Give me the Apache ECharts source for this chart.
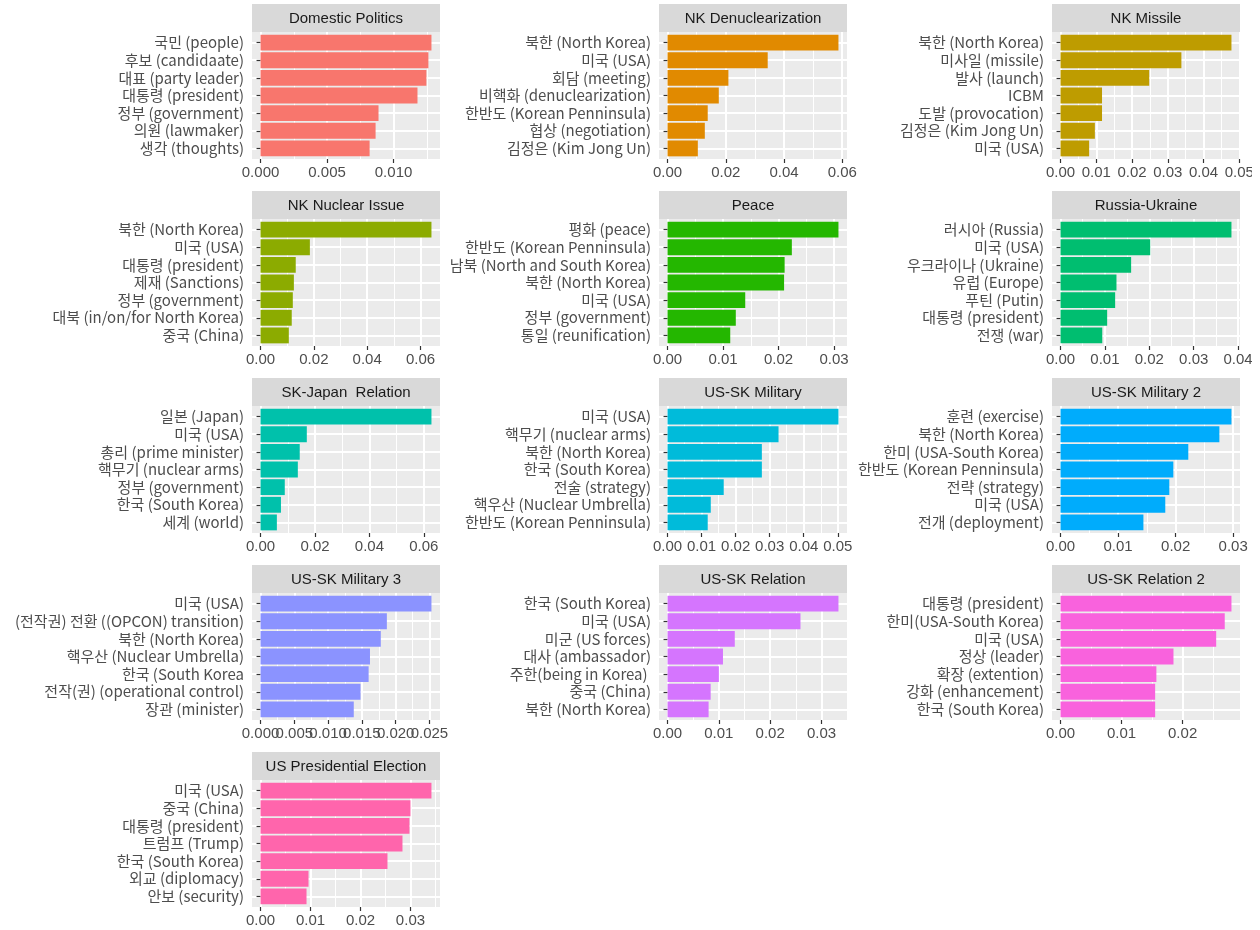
<!DOCTYPE html>
<html>
<head>
<meta charset="utf-8">
<script src="https://cdn.jsdelivr.net/npm/echarts@6/dist/echarts.min.js"></script>
<style>
  html, body { margin: 0; padding: 0; background: #fff; }
  #chart { width: 1252px; height: 930px; }
</style>
</head>
<body>
<div id="chart"></div>
<script>
var titles = ['Domestic Politics', 'NK Denuclearization', 'NK Missile', 'NK Nuclear Issue', 'Peace',
  'Russia-Ukraine', 'SK-Japan  Relation', 'US-SK Military', 'US-SK Military 2', 'US-SK Military 3',
  'US-SK Relation', 'US-SK Relation 2', 'US Presidential Election'];

var terms = [
  ['국민 (people)', '후보 (candidaate)', '대표 (party leader)', '대통령 (president)', '정부 (government)', '의원 (lawmaker)', '생각 (thoughts)'],
  ['북한 (North Korea)', '미국 (USA)', '회담 (meeting)', '비핵화 (denuclearization)', '한반도 (Korean Penninsula)', '협상 (negotiation)', '김정은 (Kim Jong Un)'],
  ['북한 (North Korea)', '미사일 (missile)', '발사 (launch)', 'ICBM', '도발 (provocation)', '김정은 (Kim Jong Un)', '미국 (USA)'],
  ['북한 (North Korea)', '미국 (USA)', '대통령 (president)', '제재 (Sanctions)', '정부 (government)', '대북 (in/on/for North Korea)', '중국 (China)'],
  ['평화 (peace)', '한반도 (Korean Penninsula)', '남북 (North and South Korea)', '북한 (North Korea)', '미국 (USA)', '정부 (government)', '통일 (reunification)'],
  ['러시아 (Russia)', '미국 (USA)', '우크라이나 (Ukraine)', '유럽 (Europe)', '푸틴 (Putin)', '대통령 (president)', '전쟁 (war)'],
  ['일본 (Japan)', '미국 (USA)', '총리 (prime minister)', '핵무기 (nuclear arms)', '정부 (government)', '한국 (South Korea)', '세계 (world)'],
  ['미국 (USA)', '핵무기 (nuclear arms)', '북한 (North Korea)', '한국 (South Korea)', '전술 (strategy)', '핵우산 (Nuclear Umbrella)', '한반도 (Korean Penninsula)'],
  ['훈련 (exercise)', '북한 (North Korea)', '한미 (USA-South Korea)', '한반도 (Korean Penninsula)', '전략 (strategy)', '미국 (USA)', '전개 (deployment)'],
  ['미국 (USA)', '(전작권) 전환 ((OPCON) transition)', '북한 (North Korea)', '핵우산 (Nuclear Umbrella)', '한국 (South Korea', '전작(권) (operational control)', '장관 (minister)'],
  ['한국 (South Korea)', '미국 (USA)', '미군 (US forces)', '대사 (ambassador)', '주한(being in Korea) ', '중국 (China)', '북한 (North Korea)'],
  ['대통령 (president)', '한미(USA-South Korea)', '미국 (USA)', '정상 (leader)', '확장 (extention)', '강화 (enhancement)', '한국 (South Korea)'],
  ['미국 (USA)', '중국 (China)', '대통령 (president)', '트럼프 (Trump)', '한국 (South Korea)', '외교 (diplomacy)', '안보 (security)']
];

var values = [
  [0.01285, 0.01262, 0.01247, 0.0118, 0.00887, 0.00865, 0.0082],
  [0.0587, 0.0344, 0.0209, 0.0176, 0.0138, 0.0128, 0.0104],
  [0.0478, 0.0338, 0.0248, 0.0116, 0.0116, 0.0096, 0.0080],
  [0.0641, 0.0185, 0.0132, 0.0125, 0.0121, 0.0117, 0.0106],
  [0.0308, 0.0224, 0.0211, 0.0210, 0.0140, 0.0123, 0.0113],
  [0.0385, 0.0202, 0.0159, 0.0126, 0.0123, 0.0105, 0.0094],
  [0.0628, 0.0170, 0.0144, 0.0137, 0.0089, 0.0075, 0.0060],
  [0.0502, 0.0326, 0.0277, 0.0277, 0.0165, 0.0127, 0.0118],
  [0.0297, 0.0276, 0.0222, 0.0196, 0.0189, 0.0182, 0.0144],
  [0.0253, 0.0187, 0.0178, 0.0162, 0.0160, 0.0148, 0.0138],
  [0.0333, 0.0259, 0.0131, 0.0108, 0.0100, 0.0084, 0.0080],
  [0.0280, 0.0269, 0.0255, 0.0185, 0.0157, 0.0155, 0.0155],
  [0.0342, 0.0300, 0.0298, 0.0284, 0.0254, 0.0096, 0.0092]
];

// x tick step of each panel
var steps = [0.005, 0.02, 0.01, 0.02, 0.01, 0.01, 0.02, 0.01, 0.01, 0.005, 0.01, 0.01, 0.01];

var colors = ['#F8766D', '#E18A00', '#BE9C00', '#8CAB00', '#24B700', '#00BE70', '#00C1AB',
  '#00BBDA', '#00ACFC', '#8B93FF', '#D575FE', '#F962DD', '#FF65AC'];

var chart = echarts.init(document.getElementById('chart'));

var colLeft = [252, 659, 1052];
var W = 188, H = 127, stripH = 28, rowTop = 4, rowPitch = 187;
var grids = [], xAxes = [], yAxes = [], series = [], graphics = [];

function fix(v) { return Number(v.toFixed(10)); }

var xLabelStyle = {
  margin: 6, color: '#4D4D4D', fontSize: 15, fontFamily: '"Liberation Sans", Arial, sans-serif',
  showMinLabel: true, showMaxLabel: true, hideOverlap: false
};

function labelAxis(g, min, max, interval, dec) {
  return {
    type: 'value', gridIndex: g, min: min, max: max, interval: interval,
    axisLine: { show: false }, axisTick: { show: false }, splitLine: { show: false },
    axisLabel: Object.assign({}, xLabelStyle, { formatter: function (v) { return v.toFixed(dec); } })
  };
}

titles.forEach(function (title, i) {
  var left = colLeft[i % 3];
  var stripTop = rowTop + rowPitch * Math.floor(i / 3);
  var top = stripTop + stripH;
  var vals = values[i], step = steps[i];
  var max = Math.max.apply(null, vals);
  var lo = -0.05 * max, hi = 1.05 * max;
  var px = function (v) { return left + (v - lo) / (hi - lo) * W; };
  var dec = String(step).split('.')[1].length;
  var lastMajor = fix(Math.floor(hi / step + 1e-9) * step);
  var firstMinor = fix(step / 2);
  var lastMinor = fix(firstMinor + Math.floor((hi - firstMinor) / step + 1e-9) * step);
  var gap = H / 7.2;
  // labels wider than the tick spacing are drawn on two axes (even / odd ticks)
  var crowded = (px(step) - px(0)) < (dec + 2) * 7.8;

  // strip + panel background
  graphics.push({
    type: 'rect', z: -1, silent: true,
    shape: { x: left, y: stripTop, width: W, height: stripH },
    style: { fill: '#D9D9D9' }
  });
  graphics.push({
    type: 'text', z: 5, silent: true,
    style: {
      text: title, x: left + W / 2, y: stripTop + stripH / 2 + 1,
      textAlign: 'center', textVerticalAlign: 'middle', verticalAlign: 'middle',
      fill: '#1A1A1A', font: '15px "Liberation Sans", Arial, sans-serif'
    }
  });
  graphics.push({
    type: 'rect', z: -1, silent: true,
    shape: { x: left, y: top, width: W, height: H },
    style: { fill: '#EBEBEB' }
  });

  // minor vertical lines
  var g = grids.length;
  grids.push({ left: px(firstMinor), width: px(lastMinor) - px(firstMinor), top: top, height: H, outerBoundsMode: 'none' });
  xAxes.push({
    type: 'value', gridIndex: g, min: firstMinor, max: lastMinor, interval: step,
    axisLine: { show: false }, axisTick: { show: false }, axisLabel: { show: false },
    splitLine: { show: true, lineStyle: { color: '#FFFFFF', width: 1 } }
  });
  yAxes.push({ type: 'value', gridIndex: g, show: false });

  // major vertical lines, x ticks and labels
  g = grids.length;
  grids.push({ left: px(0), width: px(lastMajor) - px(0), top: top, height: H, outerBoundsMode: 'none' });
  xAxes.push({
    type: 'value', gridIndex: g, min: 0, max: lastMajor, interval: step,
    axisLine: { show: false },
    axisTick: { show: true, length: 4, lineStyle: { color: '#333333', width: 1.2 } },
    axisLabel: Object.assign({}, xLabelStyle, {
      show: !crowded,
      formatter: function (v) { return v.toFixed(dec); }
    }),
    splitLine: { show: true, lineStyle: { color: '#FFFFFF', width: 2 } }
  });
  yAxes.push({ type: 'value', gridIndex: g, show: false });

  if (crowded) {
    var lastEven = fix(Math.floor(lastMajor / (2 * step) + 1e-9) * 2 * step);
    var lastOdd = fix(step + Math.floor((lastMajor - step) / (2 * step) + 1e-9) * 2 * step);
    g = grids.length;
    grids.push({ left: px(0), width: px(lastEven) - px(0), top: top, height: H, outerBoundsMode: 'none' });
    xAxes.push(labelAxis(g, 0, lastEven, 2 * step, dec));
    yAxes.push({ type: 'value', gridIndex: g, show: false });
    g = grids.length;
    grids.push({ left: px(step), width: px(lastOdd) - px(step), top: top, height: H, outerBoundsMode: 'none' });
    xAxes.push(labelAxis(g, step, lastOdd, 2 * step, dec));
    yAxes.push({ type: 'value', gridIndex: g, show: false });
  }

  // bars, category ticks/labels and horizontal lines
  g = grids.length;
  grids.push({ left: left, width: W, top: top + 0.6 * gap, height: 6 * gap, outerBoundsMode: 'none' });
  xAxes.push({ type: 'value', gridIndex: g, min: lo, max: hi, show: false });
  yAxes.push({
    type: 'category', gridIndex: g, data: terms[i], inverse: true, boundaryGap: false,
    axisLine: { show: false },
    axisTick: { show: true, interval: 0, length: 4, lineStyle: { color: '#333333', width: 1.2 } },
    axisLabel: {
      interval: 0, margin: 8, color: '#4D4D4D', fontSize: 15,
      fontFamily: '"Noto Sans CJK KR", "Noto Sans", sans-serif'
    },
    splitLine: { show: true, interval: 0, lineStyle: { color: '#FFFFFF', width: 2 } }
  });
  series.push({
    type: 'bar', xAxisIndex: g, yAxisIndex: g, data: vals, barWidth: '90%', clip: false,
    itemStyle: { color: colors[i] }, silent: true
  });
});

chart.setOption({
  animation: false,
  backgroundColor: '#FFFFFF',
  grid: grids,
  xAxis: xAxes,
  yAxis: yAxes,
  series: series,
  graphic: graphics
});
</script>
</body>
</html>
